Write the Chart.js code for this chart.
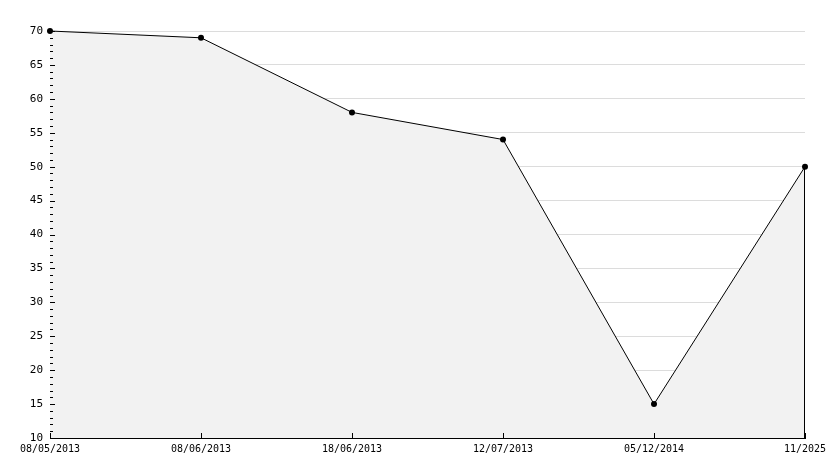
<!DOCTYPE html>
<html>
<head>
<meta charset="utf-8">
<script src="https://cdn.jsdelivr.net/npm/chart.js@4/dist/chart.umd.min.js"></script>
<style>
  html, body { margin: 0; padding: 0; background: #fff; }
  canvas { display: block; }
</style>
</head>
<body>
<canvas id="chart" width="834" height="468"></canvas>
<script>
const labels = ["08/05/2013", "08/06/2013", "18/06/2013", "12/07/2013", "05/12/2014", "11/2025"];
const values = [70, 69, 58, 54, 15, 50];
const yMin = 10;
const yMax = 70;

// small tick marks drawn inside the plot, like the original
const tickMarks = {
  id: "tickMarks",
  afterDatasetsDraw(chart) {
    const { ctx, chartArea, scales } = chart;
    const y = scales.y, x = scales.x;
    ctx.save();
    ctx.strokeStyle = "#000";
    ctx.lineWidth = 1;
    ctx.beginPath();
    for (let v = yMin; v <= yMax; v++) {
      const py = Math.round(y.getPixelForValue(v)) + 0.5;
      const len = v % 5 === 0 ? 5 : 3;
      ctx.moveTo(chartArea.left, py);
      ctx.lineTo(chartArea.left + len, py);
    }
    labels.forEach((l, i) => {
      const px = Math.round(x.getPixelForValue(i)) + 0.5;
      ctx.moveTo(px, chartArea.bottom);
      ctx.lineTo(px, chartArea.bottom - 5);
    });
    // right edge of the filled area
    const last = chart.getDatasetMeta(0).data[values.length - 1];
    const rx = Math.round(last.x) - 0.5;
    ctx.moveTo(rx, last.y);
    ctx.lineTo(rx, chartArea.bottom);
    ctx.stroke();
    ctx.restore();
  }
};

new Chart(document.getElementById("chart"), {
  type: "line",
  data: {
    labels,
    datasets: [
      {
        data: values,
        borderColor: "#000",
        borderWidth: 1,
        backgroundColor: "#f2f2f2",
        fill: "start",
        tension: 0,
        clip: false,
        pointRadius: 3,
        pointBackgroundColor: "#000",
        pointBorderColor: "#000",
        pointBorderWidth: 0
      }
    ]
  },
  options: {
    responsive: false,
    animation: false,
    devicePixelRatio: 1,
    layout: { padding: { top: 31, right: 29, left: 0, bottom: 0 } },
    plugins: { legend: { display: false }, tooltip: { enabled: false } },
    scales: {
      x: {
        offset: false,
        grid: { drawOnChartArea: false, drawTicks: false },
        border: { color: "#000", width: 1 },
        ticks: {
          color: "#000",
          font: { family: "DejaVu Sans Mono", size: 10 },
          padding: 5,
          maxRotation: 0,
          autoSkip: false
        },
        afterFit(scale) { scale.height = 30; }
      },
      y: {
        min: yMin,
        max: yMax,
        grid: { color: "#dcdcdc", drawTicks: false },
        border: { color: "#000", width: 1 },
        ticks: {
          stepSize: 5,
          color: "#000",
          font: { family: "DejaVu Sans Mono", size: 11 },
          padding: 7
        },
        afterFit(scale) { scale.width = 50; }
      }
    }
  },
  plugins: [tickMarks]
});
</script>
</body>
</html>
